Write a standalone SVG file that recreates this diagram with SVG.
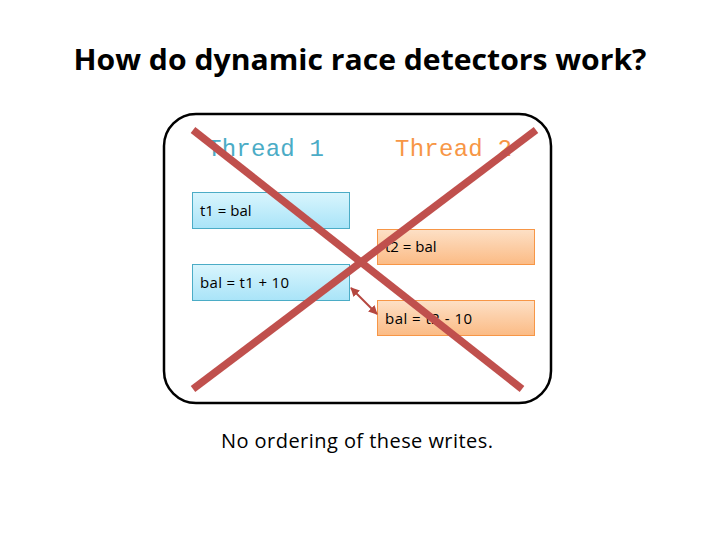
<svg xmlns="http://www.w3.org/2000/svg" width="720" height="540" viewBox="0 0 720 540">
<defs>
<linearGradient id="gb" x1="0" y1="0" x2="0" y2="1"><stop offset="0" stop-color="#d9f5fd"/><stop offset="1" stop-color="#a9e4f8"/></linearGradient>
<linearGradient id="go" x1="0" y1="0" x2="0" y2="1"><stop offset="0" stop-color="#fde0c6"/><stop offset="1" stop-color="#fbbb85"/></linearGradient>
<marker id="ah" viewBox="0 0 10 10" refX="9" refY="5" markerWidth="4.5" markerHeight="4.5" orient="auto-start-reverse"><path d="M0,0 L10,5 L0,10 z" fill="#b5473f"/></marker>
<style>
.title{font-family:"Open Sans","Liberation Sans",sans-serif;font-weight:bold;font-size:29px;fill:#000}
.thr{font-family:"Liberation Mono",monospace;font-size:24px}
.bt{font-family:"Open Sans","Liberation Sans",sans-serif;font-size:15px;fill:#000}
.cap{font-family:"Open Sans","Liberation Sans",sans-serif;font-size:20px;fill:#000}
.blue{fill:url(#gb);stroke:#4bacc6;stroke-width:1}
.orange{fill:url(#go);stroke:#f79646;stroke-width:1}
.x{stroke:#c0504d;stroke-width:7.5;stroke-linecap:butt}
</style>
</defs>
<rect width="720" height="540" fill="#fff"/>
<text class="title" x="360" y="70" text-anchor="middle" textLength="573" lengthAdjust="spacingAndGlyphs">How do dynamic race detectors work?</text>
<g id="frame"><rect x="164" y="114" width="387" height="289" rx="32" fill="none" stroke="#000" stroke-width="2.5"/></g>
<g id="thread1"><text class="thr" x="207" y="156" fill="#4bacc6" textLength="117">Thread 1</text></g>
<g id="thread2"><text class="thr" x="395" y="156" fill="#f79646" textLength="117">Thread 2</text></g>
<g id="n1"><rect class="blue" x="192.5" y="192.5" width="157" height="36"/><text class="bt" x="200" y="216">t1 = bal</text></g>
<g id="n2"><rect class="orange" x="377.5" y="229.5" width="157" height="35"/><text class="bt" x="385" y="252">t2 = bal</text></g>
<g id="n3"><rect class="blue" x="192.5" y="264.5" width="157" height="36"/><text class="bt" x="200" y="288" textLength="89">bal = t1 + 10</text></g>
<g id="n4"><rect class="orange" x="377.5" y="300.5" width="157" height="35"/><text class="bt" x="385" y="324" textLength="87">bal = t2 - 10</text></g>
<g id="connectors">
<line x1="351" y1="288" x2="377" y2="314" stroke="#b5473f" stroke-width="2" marker-start="url(#ah)" marker-end="url(#ah)"/>
</g>
<g id="cross">
<line class="x" x1="193" y1="130" x2="522" y2="389"/>
<line class="x" x1="536" y1="130" x2="193" y2="389"/>
</g>
<text class="cap" x="221" y="448" textLength="272">No ordering of these writes.</text>
</svg>
